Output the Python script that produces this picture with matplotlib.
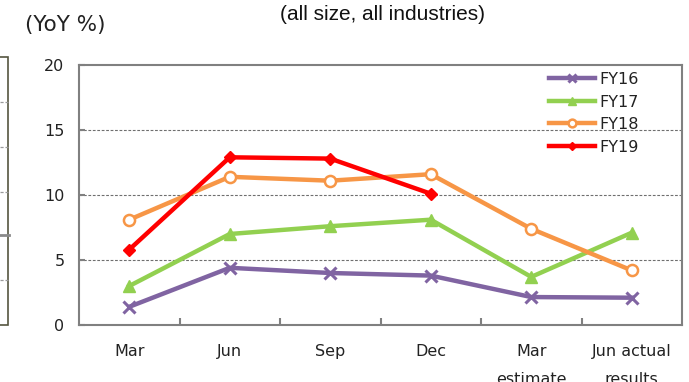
import matplotlib
matplotlib.use("Agg")
import matplotlib.pyplot as plt
from matplotlib.lines import Line2D
from matplotlib.patches import Rectangle

# Categories along the horizontal axis
categories = ["Mar", "Jun", "Sep", "Dec", "Mar\nestimate", "Jun actual\nresults"]

# Year-on-year change (%) by fiscal year
fy16 = [1.4, 4.4, 4.0, 3.8, 2.15, 2.1]
fy17 = [3.0, 7.0, 7.6, 8.1, 3.7, 7.1]
fy18 = [8.1, 11.4, 11.1, 11.6, 7.4, 4.2]
fy19 = [5.8, 12.9, 12.8, 10.1]

series_names = ["FY16", "FY17", "FY18", "FY19"]
y_ticks = [0, 5, 10, 15, 20]

W, H = 689, 382
fig = plt.figure(figsize=(W / 100, H / 100), dpi=100)
plt.rcParams["font.family"] = ["DejaVu Sans"]

def fx(px):
    return px / W

def fy(py):
    return 1 - py / H

ax = fig.add_axes([fx(79), fy(325), fx(682) - fx(79), fy(65) - fy(325)])

x = list(range(len(categories)))
lw = 3.2
ax.plot(x[:len(fy16)], fy16, color="#8064A2", lw=lw, marker="x", ms=8, mew=2.2,
        label=series_names[0], zorder=3)
ax.plot(x[:len(fy17)], fy17, color="#92D050", lw=lw, marker="^", ms=8,
        label=series_names[1], zorder=3)
ax.plot(x[:len(fy18)], fy18, color="#F79646", lw=lw, marker="o", ms=8,
        mfc="white", mec="#F79646", mew=1.8, label=series_names[2], zorder=3)
ax.plot(x[:len(fy19)], fy19, color="#FF0000", lw=lw, marker="D", ms=6.5,
        label=series_names[3], zorder=4)

ax.set_xlim(-0.5, len(categories) - 0.5)
ax.set_ylim(0, 20)
ax.set_yticks(y_ticks)
ax.set_xticks(x)
ax.set_xticklabels(categories, fontsize=11.5, color="#222222", linespacing=2.05,
                   va="top")
ax.set_xticks([i + 0.5 for i in range(len(categories) - 1)], minor=True)
ax.tick_params(axis="x", which="major", length=0, pad=14)
ax.tick_params(axis="x", which="minor", direction="in", length=5, width=1.5,
               color="#808080")
ax.tick_params(axis="y", direction="in", length=4, width=1.5, color="#808080",
               labelsize=11.5, labelcolor="#222222", pad=10.5)

for yv in y_ticks[1:-1]:
    ax.axhline(yv, color="#6f6f6f", lw=0.8, ls=(0, (2.5, 1.5)), zorder=1)

for s in ax.spines.values():
    s.set_color("#808080")
    s.set_linewidth(1.5)

leg = ax.legend(loc="upper left", bbox_to_anchor=(fx(549), fy(72)),
                bbox_transform=fig.transFigure,
                frameon=False, fontsize=11.5, handlelength=2.9, handletextpad=0.25,
                labelspacing=0.47, borderaxespad=0, borderpad=0, markerscale=0.7)
for t in leg.get_texts():
    t.set_color("#222222")

fig.text(fx(65), fy(25), "(YoY %)", fontsize=15.5, ha="center", va="center",
         color="#222222")
fig.text(fx(383), fy(14), "(all size, all industries)", fontsize=15,
         family="Liberation Sans", ha="center", va="center", color="#111111")

# Edge of the neighbouring panel on the left
fig.add_artist(Rectangle((fx(-60), fy(325)), fx(68), fy(57) - fy(325),
                         transform=fig.transFigure, fill=False,
                         edgecolor="#55553f", lw=1.2))
for py in [102, 147, 192, 280]:
    fig.add_artist(Line2D([0, fx(8)], [fy(py), fy(py)], transform=fig.transFigure,
                          color="#9a9a9a", lw=0.9, ls=(0, (2.5, 1.5))))
fig.add_artist(Line2D([0, fx(9)], [fy(235), fy(235)], transform=fig.transFigure,
                      color="#8a8a8a", lw=2))

fig.savefig("out.png", dpi=100)
